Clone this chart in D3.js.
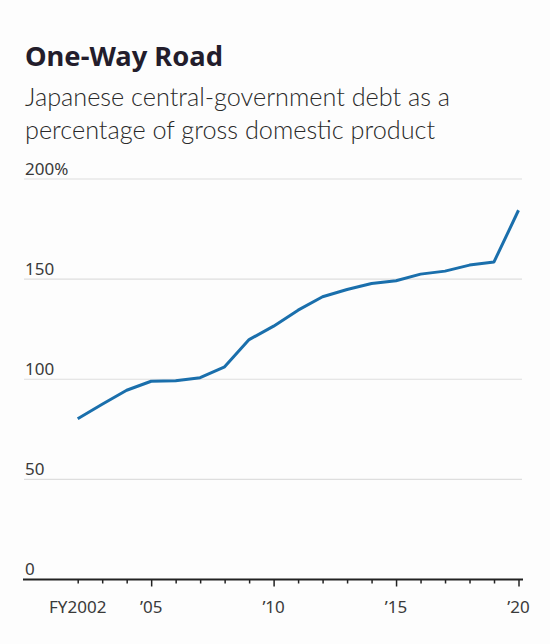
<!DOCTYPE html>
<html>
<head>
<meta charset="utf-8">
<script src="https://cdn.jsdelivr.net/npm/d3@7"></script>
<style>
  html, body { margin: 0; padding: 0; background: #fdfdfd; }
  svg { display: block; }
</style>
</head>
<body>
<svg id="chart" width="550" height="644"></svg>
<script>
// ---- data ----
const years = [2002, 2003, 2004, 2005, 2006, 2007, 2008, 2009, 2010, 2011, 2012, 2013, 2014, 2015, 2016, 2017, 2018, 2019, 2020];
const debtPct = [80.3, 87.5, 94.5, 99, 99.3, 100.8, 106.2, 119.8, 126.5, 134.5, 141.2, 144.8, 147.8, 149.2, 152.5, 154, 157, 158.6, 184.4];
const yTicks = [0, 50, 100, 150, 200];
const yTickLabels = ["0", "50", "100", "150", "200%"];
const xMajorTicks = [2002, 2005, 2010, 2015, 2020];
const xTickLabels = ["FY2002", "\u201905", "\u201910", "\u201915", "\u201920"];
const title = "One-Way Road";
const subtitle = ["Japanese central-government debt as a", "percentage of gross domestic product"];

// ---- layout ----
const svg = d3.select("#chart");
const font = "'Noto Sans', 'Open Sans', sans-serif";
const lightFont = "Lato, 'Noto Sans', sans-serif";
const left = 23, right = 522;

const x = d3.scaleLinear().domain([2002, 2020]).range([77.7, 518.5]);
const y = d3.scaleLinear().domain([0, 200]).range([579.5, 179]);

function fit(sel, target) {
  const w = sel.node().getComputedTextLength();
  const fs = parseFloat(sel.attr("font-size"));
  const nfs = fs * target / w;
  sel.attr("font-size", nfs.toFixed(2));
  return nfs;
}

// title
const t = svg.append("text")
  .attr("x", 25).attr("y", 66)
  .attr("font-family", font).attr("font-weight", 700)
  .attr("font-size", 28).attr("fill", "#231d2c")
  .text(title);
fit(t, 198);

// subtitle
const sub = svg.append("g");
let subSize = 22;
subtitle.forEach((s, i) => {
  const st = sub.append("text")
    .attr("x", 25).attr("y", 105.5 + i * 33.5)
    .attr("font-family", lightFont).attr("font-weight", 300)
    .attr("font-size", subSize).attr("fill", "#2a2a2a")
    .text(s);
  if (i === 0) subSize = fit(st, 425);
  else st.attr("font-size", subSize.toFixed(2));
});

// gridlines (skip 0 which is the axis)
const grid = svg.append("g");
grid.selectAll("line").data(yTicks.filter(d => d !== 0)).join("line")
  .attr("x1", left + 1).attr("x2", right)
  .attr("y1", d => y(d)).attr("y2", d => y(d))
  .attr("stroke", "#dedede").attr("stroke-width", 1.2);

// y labels
const yl = svg.append("g");
yl.selectAll("text").data(yTicks).join("text")
  .attr("x", 25).attr("y", d => y(d) - 4.5)
  .attr("font-family", font).attr("font-weight", 400)
  .attr("font-size", 17).attr("fill", "#3a3a3a")
  .text((d, i) => yTickLabels[i]);

// x axis
const xAxis = d3.axisBottom(x)
  .tickValues(years)
  .tickSize(0)
  .tickFormat("");
const ax = svg.append("g").attr("transform", `translate(0,${y(0)})`).call(xAxis);
ax.select(".domain").remove();
ax.append("line").attr("x1", left).attr("x2", right + 1)
  .attr("y1", 0).attr("y2", 0)
  .attr("stroke", "#222").attr("stroke-width", 2);
ax.selectAll(".tick line")
  .attr("y2", d => xMajorTicks.includes(d) && d !== 2002 ? 7 : 4)
  .attr("stroke", "#222").attr("stroke-width", 1.5);

svg.append("g").selectAll("text").data(xMajorTicks).join("text")
  .attr("x", d => x(d)).attr("y", 613)
  .attr("text-anchor", "middle")
  .attr("font-family", font).attr("font-weight", 400)
  .attr("font-size", 17).attr("fill", "#3a3a3a")
  .text((d, i) => xTickLabels[i]);

// line
const line = d3.line().x((d, i) => x(years[i])).y(d => y(d));
svg.append("path").datum(debtPct)
  .attr("d", line)
  .attr("fill", "none")
  .attr("stroke", "#1a6fac")
  .attr("stroke-width", 3)
  .attr("stroke-linejoin", "round");
</script>
</body>
</html>
